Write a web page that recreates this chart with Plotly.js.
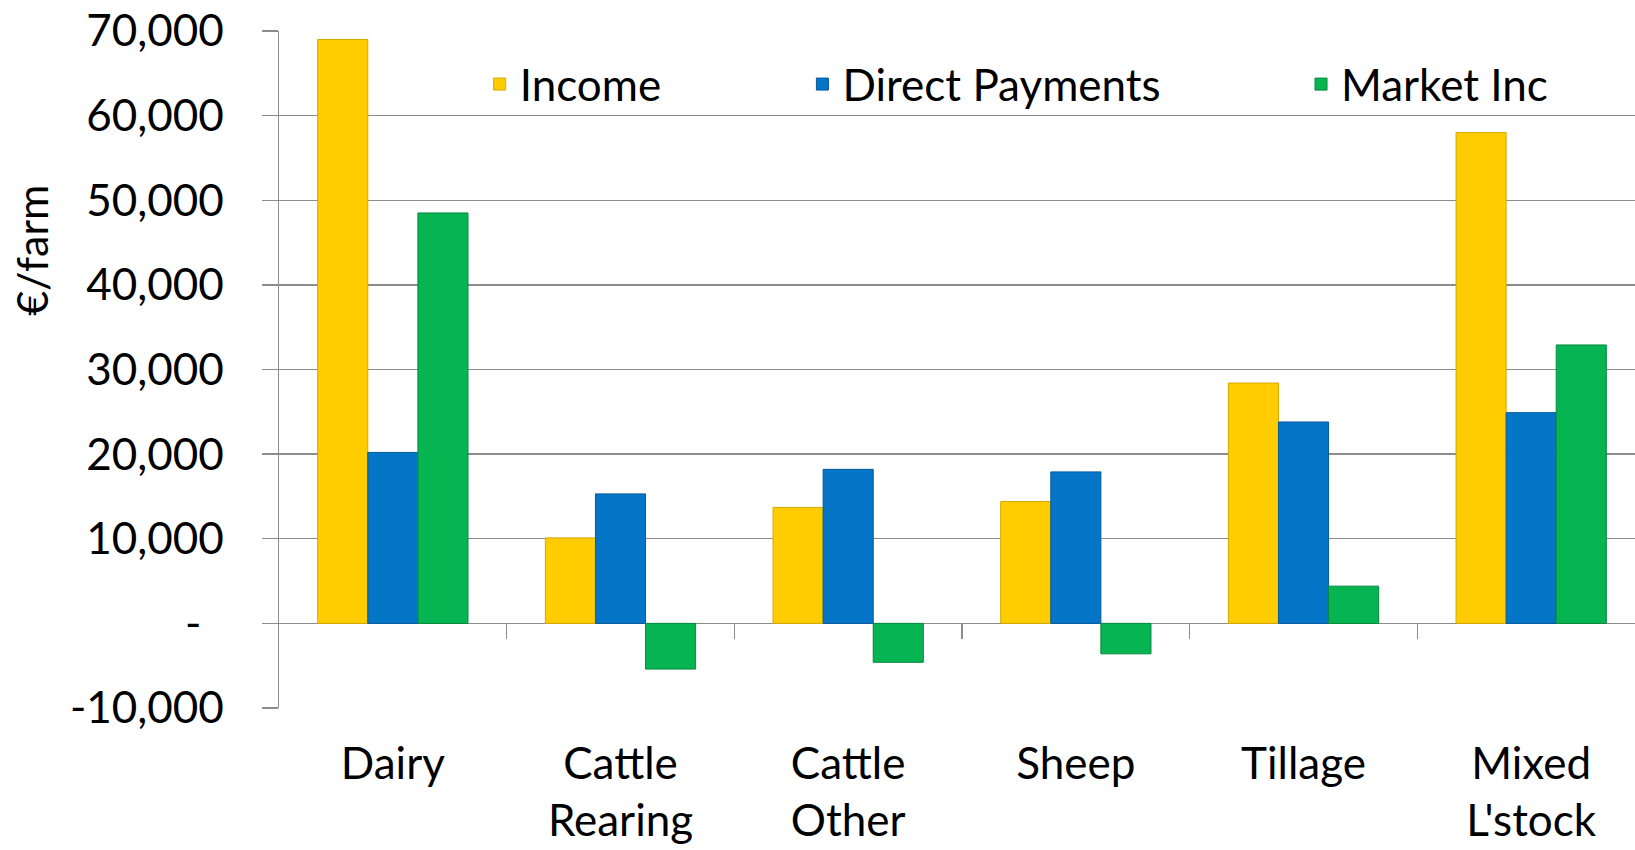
<!DOCTYPE html>
<html>
<head>
<meta charset="utf-8">
<script src="https://cdn.plot.ly/plotly-3.0.1.min.js"></script>
<style>html,body{margin:0;padding:0;background:#fff;}#chart{width:1635px;height:850px;}</style>
</head>
<body>
<div id="chart"></div>
<script>
// ---- data ----
const categories = ["Dairy", "Cattle<br>Rearing", "Cattle<br>Other", "Sheep", "Tillage", "Mixed<br>L'stock"];
const seriesNames = ["Income", "Direct Payments", "Market Inc"];
const income = [69000, 10100, 13700, 14400, 28400, 58000];
const directPayments = [20200, 15300, 18200, 17900, 23800, 24900];
const marketInc = [48500, -5400, -4600, -3600, 4400, 32900];
const yTickVals = [-10000, 0, 10000, 20000, 30000, 40000, 50000, 60000, 70000];
const yTickText = ["-10,000", "-\u00a0\u00a0", "10,000", "20,000", "30,000", "40,000", "50,000", "60,000", "70,000"];
const yTitle = "€/farm";

// ---- styles ----
const FONT = "Lato, 'Open Sans', sans-serif";
const colors = ["#FFCC00", "#0575C8", "#06B552"];
const edge = ["#D4A900", "#045A9C", "#04893E"];
const GRID = "#8C8C8C";
const values = [income, directPayments, marketInc];
const legendIds = ["legend", "legend2", "legend3"];

const traces = values.map((v, i) => ({
  type: "bar",
  name: seriesNames[i],
  x: categories,
  y: v,
  marker: {color: colors[i], line: {color: edge[i], width: 1}},
  legend: legendIds[i],
  hoverinfo: "x+y+name"
}));
// carrier for the category-divider ticks on the zero line
traces.push({type: "scatter", x: [], y: [], xaxis: "x2", yaxis: "y", showlegend: false, hoverinfo: "skip"});

const nCat = categories.length;
const legFont = {family: FONT, size: 44, color: "#000"};
const legBase = {orientation: "h", yanchor: "middle", y: 0.921, xanchor: "left",
  bgcolor: "rgba(0,0,0,0)", font: legFont, itemclick: false};

const layout = {
  width: 1635, height: 850,
  margin: {l: 279, r: 0, t: 31, b: 142, pad: 0},
  paper_bgcolor: "#fff", plot_bgcolor: "#fff",
  font: {family: FONT, size: 44, color: "#000"},
  barmode: "group", bargap: 0.34, bargroupgap: 0,
  showlegend: true,
  legend: Object.assign({}, legBase, {x: 0.148}),
  legend2: Object.assign({}, legBase, {x: 0.386}),
  legend3: Object.assign({}, legBase, {x: 0.7537}),
  xaxis: {
    type: "category", range: [-0.5, nCat - 0.544],
    showline: false, showgrid: false, zeroline: false, ticks: "",
    tickfont: {family: FONT, size: 44, color: "#000"},
    ticklabelstandoff: 26, fixedrange: true
  },
  xaxis2: {
    overlaying: "x", anchor: "free", position: 0.125, side: "bottom",
    type: "linear", range: [-0.5, nCat - 0.544],
    tickmode: "array", tickvals: [0.5, 1.5, 2.5, 3.5, 4.5],
    ticks: "outside", ticklen: 15, tickwidth: 1.3, tickcolor: GRID,
    showticklabels: false, showgrid: false, zeroline: false, showline: false
  },
  yaxis: {
    range: [-10000, 70000], tickmode: "array", tickvals: yTickVals, ticktext: yTickText,
    showline: true, linecolor: GRID, linewidth: 1.3,
    showgrid: true, gridcolor: GRID, gridwidth: 1.3,
    zeroline: true, zerolinecolor: GRID, zerolinewidth: 1.3,
    ticks: "outside", ticklen: 16, tickwidth: 1.3, tickcolor: GRID,
    ticklabelstandoff: 29,
    tickfont: {family: FONT, size: 44, color: "#000"},
    automargin: false, fixedrange: true
  },
  annotations: [{
    text: yTitle, textangle: -90, showarrow: false,
    xref: "paper", yref: "paper", x: -0.183, y: 0.6765,
    xanchor: "center", yanchor: "middle",
    font: {family: FONT, size: 43, color: "#000"}
  }]
};

Plotly.newPlot("chart", traces, layout, {displayModeBar: false, staticPlot: true});
</script>
</body>
</html>
